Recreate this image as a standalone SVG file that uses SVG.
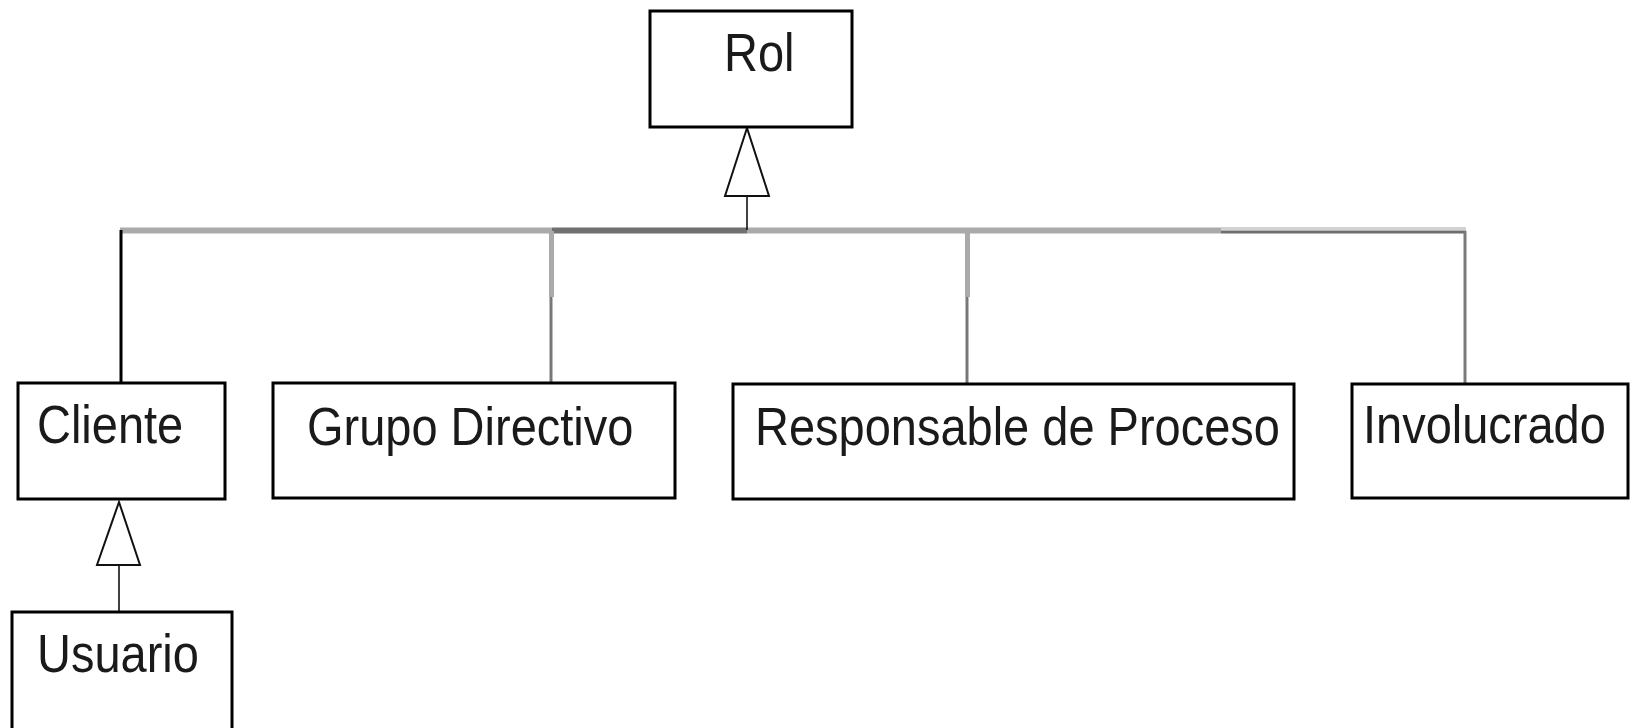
<svg xmlns="http://www.w3.org/2000/svg" width="1630" height="728" viewBox="0 0 1630 728">
<style>
.box{fill:#ffffff;stroke:#000000;stroke-width:3}
.lbl{font-family:"Liberation Sans",Arial,sans-serif;font-size:47px;fill:#1a1a1a}
.tri{fill:#ffffff;stroke:#111111;stroke-width:2}
.stem{stroke:#111111;stroke-width:1.6;fill:none}
</style>
<rect width="1630" height="728" fill="#ffffff"/>
<g id="connectors">
<line x1="120" y1="230.5" x2="552" y2="230.5" stroke="#aaaaaa" stroke-width="6"/>
<line x1="552" y1="230.5" x2="747" y2="230.5" stroke="#707070" stroke-width="6"/>
<line x1="747" y1="230.5" x2="1221" y2="230.5" stroke="#aaaaaa" stroke-width="6"/>
<line x1="1221" y1="228.5" x2="1466" y2="228.5" stroke="#d2d2d2" stroke-width="3"/>
<line x1="1221" y1="232" x2="1466" y2="232" stroke="#6e6e6e" stroke-width="3"/>
<line x1="121" y1="230" x2="121" y2="383" stroke="#000000" stroke-width="3"/>
<line x1="551.5" y1="231" x2="551.5" y2="297" stroke="#aaaaaa" stroke-width="5"/>
<line x1="551" y1="297" x2="551" y2="383" stroke="#777777" stroke-width="3"/>
<line x1="967.5" y1="231" x2="967.5" y2="297" stroke="#aaaaaa" stroke-width="5"/>
<line x1="967" y1="297" x2="967" y2="384" stroke="#777777" stroke-width="3"/>
<line x1="1465" y1="231" x2="1465" y2="384" stroke="#7a7a7a" stroke-width="3"/>
<line class="stem" x1="747" y1="196" x2="747" y2="230"/>
<polygon class="tri" points="747,128 725,196 769,196"/>
<line class="stem" x1="119" y1="565" x2="119" y2="612"/>
<polygon class="tri" points="119,502 97,565 140,565"/>
</g>
<g id="rol">
<rect class="box" x="650" y="11" width="202" height="116"/>
<text class="lbl" transform="translate(724,71) scale(1,1.13)">Rol</text>
</g>
<g id="cliente">
<rect class="box" x="18" y="383" width="207" height="116"/>
<text class="lbl" transform="translate(37,443) scale(1,1.13)">Cliente</text>
</g>
<g id="usuario">
<rect class="box" x="12" y="612" width="220" height="130"/>
<text class="lbl" transform="translate(37,672) scale(1,1.13)">Usuario</text>
</g>
<g id="grupo-directivo">
<rect class="box" x="273" y="383" width="402" height="115"/>
<text class="lbl" transform="translate(307,445) scale(1,1.13)">Grupo Directivo</text>
</g>
<g id="responsable-de-proceso">
<rect class="box" x="733" y="384" width="561" height="115"/>
<text class="lbl" transform="translate(755,445) scale(1,1.13)">Responsable de Proceso</text>
</g>
<g id="involucrado">
<rect class="box" x="1352" y="384" width="276" height="114"/>
<text class="lbl" transform="translate(1363,443) scale(1,1.13)">Involucrado</text>
</g>
</svg>
